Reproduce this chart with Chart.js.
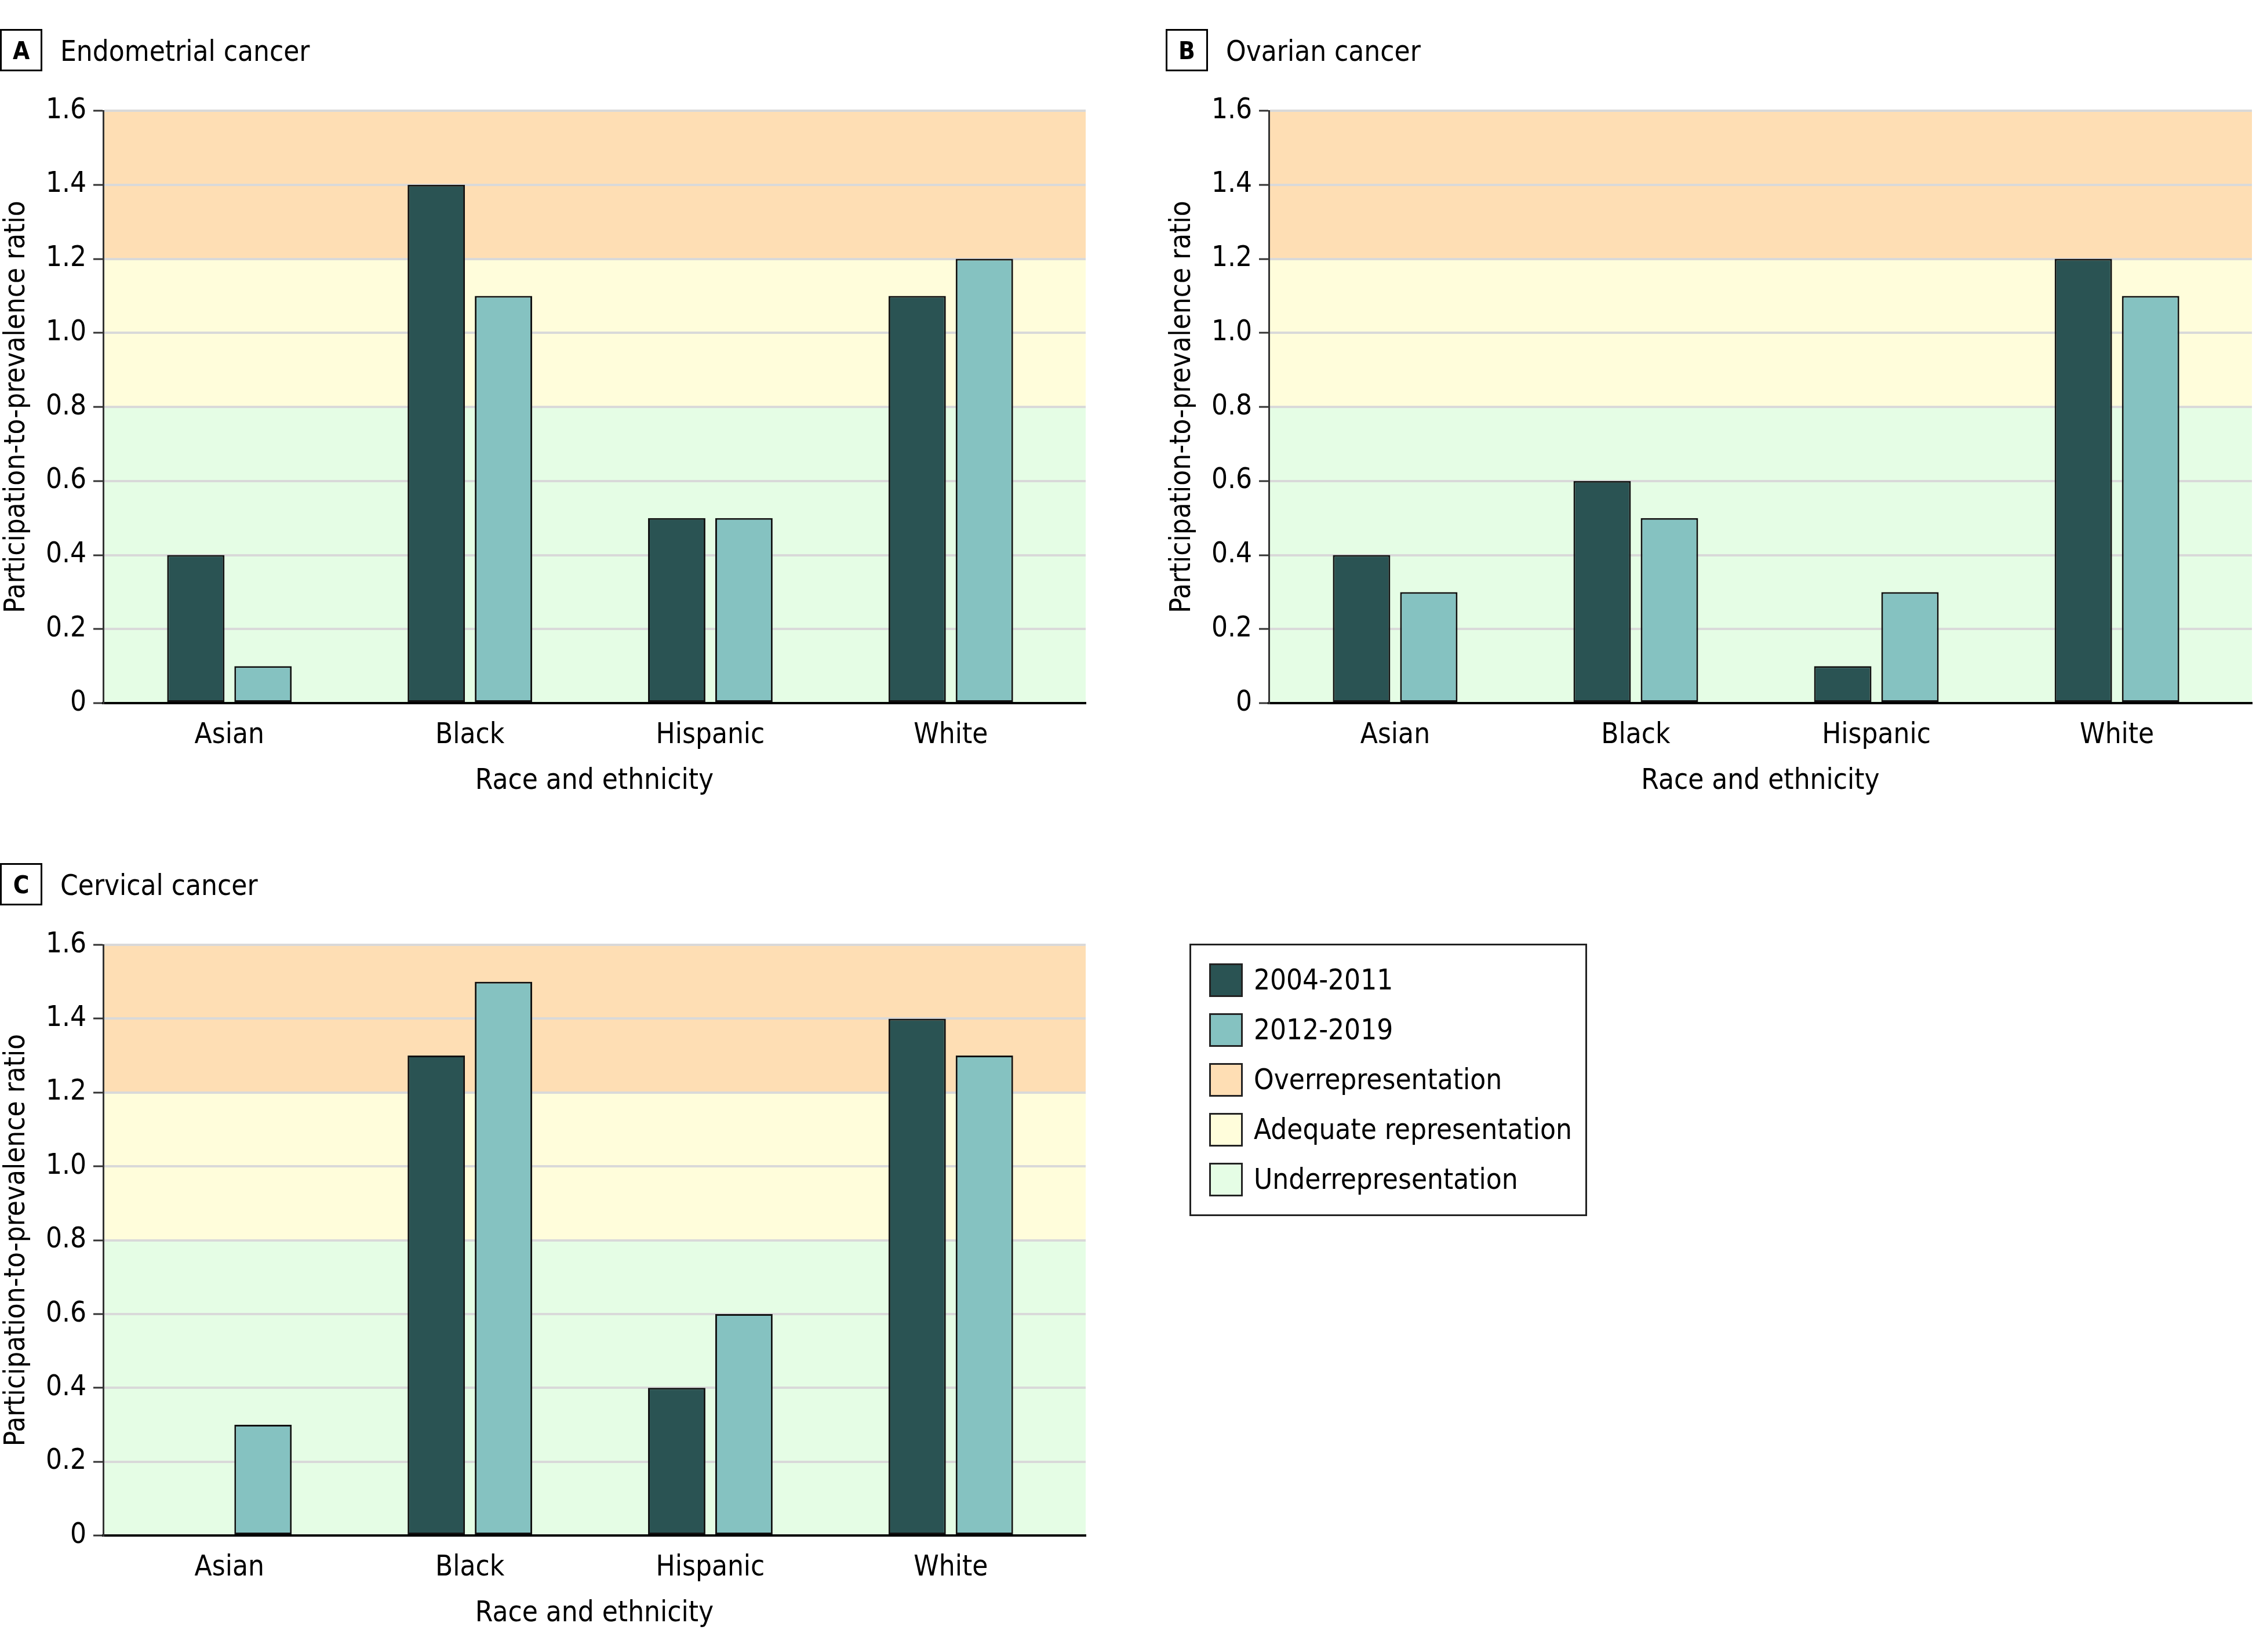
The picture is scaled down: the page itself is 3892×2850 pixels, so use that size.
<!DOCTYPE html>
<html><head><meta charset="utf-8">
<script src="https://cdn.jsdelivr.net/npm/chart.js@4.4.1/dist/chart.umd.min.js"></script>
<style>
html,body{margin:0;padding:0;background:#fff;width:3892px;height:2850px;overflow:hidden}
canvas{position:absolute}
</style></head><body>
<canvas id="cA" width="1946" height="1425" style="left:0;top:0;width:1946px;height:1425px"></canvas>
<canvas id="cB" width="1946" height="1425" style="left:1946px;top:0;width:1946px;height:1425px"></canvas>
<canvas id="cC" width="3892" height="1425" style="left:0;top:1425px;width:3892px;height:1425px"></canvas>
<script>
// ---- data ----
const categories = ['Asian', 'Black', 'Hispanic', 'White'];
const seriesNames = ['2004-2011', '2012-2019'];
const endometrial2004 = [0.4, 1.4, 0.5, 1.1];
const endometrial2012 = [0.1, 1.1, 0.5, 1.2];
const ovarian2004 = [0.4, 0.6, 0.1, 1.2];
const ovarian2012 = [0.3, 0.5, 0.3, 1.1];
const cervical2004 = [null, 1.3, 0.4, 1.4];
const cervical2012 = [0.3, 1.5, 0.6, 1.3];
const yTickLabels = ['0', '0.2', '0.4', '0.6', '0.8', '1.0', '1.2', '1.4', '1.6'];
const bandNames = ['Overrepresentation', 'Adequate representation', 'Underrepresentation'];
const bandLow = [1.2, 0.8, 0];
const bandHigh = [1.6, 1.2, 0.8];
const panelLetters = ['A', 'B', 'C'];
const panelTitles = ['Endometrial cancer', 'Ovarian cancer', 'Cervical cancer'];
const xTitle = 'Race and ethnicity';
const yTitle = 'Participation-to-prevalence ratio';

// ---- style ----
const FF = "'DejaVu Sans Condensed', 'DejaVu Sans', sans-serif";
const SERIES_COLORS = ['#2a5353', '#85c2c1'];
const BAND_COLORS = ['#fedeb4', '#fffddb', '#e5fde5'];
const FS = 49;

Chart.defaults.font.family = FF;
Chart.defaults.font.size = FS;
Chart.defaults.color = '#000';

const bandsPlugin = {
  id: 'bands',
  beforeDraw(chart) {
    const {ctx, chartArea: a, scales: {y}} = chart;
    ctx.save();
    bandLow.forEach((lo, i) => {
      const yt = y.getPixelForValue(bandHigh[i]);
      const yb = y.getPixelForValue(lo);
      ctx.fillStyle = BAND_COLORS[i];
      ctx.fillRect(a.left, yt, a.right - a.left, yb - yt);
    });
    ctx.restore();
  }
};

const headingPlugin = {
  id: 'heading',
  afterDraw(chart, args, o) {
    const {ctx, chartArea: a} = chart;
    ctx.save();
    const bx = a.left - 178, by = a.top - 141;
    ctx.lineWidth = 3;
    ctx.strokeStyle = '#000';
    ctx.strokeRect(bx + 1.5, by + 1.5, 70, 70);
    ctx.fillStyle = '#000';
    ctx.font = 'bold 42px ' + FF;
    ctx.textAlign = 'center';
    ctx.textBaseline = 'alphabetic';
    ctx.fillText(o.letter, bx + 36.5, by + 52);
    ctx.font = FS + 'px ' + FF;
    ctx.textAlign = 'left';
    ctx.fillText(o.text, a.left - 74, a.top - 86);
    ctx.restore();
  }
};

const legendBoxPlugin = {
  id: 'legendBox',
  afterDraw(chart) {
    const {ctx, chartArea: a} = chart;
    const bx = a.right + 179, by = a.top - 2, bw = 686, bh = 470;
    ctx.save();
    ctx.lineWidth = 3;
    ctx.strokeStyle = '#222';
    ctx.strokeRect(bx + 1.5, by + 1.5, bw - 3, bh - 3);
    const items = seriesNames.map((n, i) => [n, SERIES_COLORS[i]])
      .concat(bandNames.map((n, i) => [n, BAND_COLORS[i]]));
    items.forEach(([name, col], i) => {
      const sy = by + 34 + i * 86;
      ctx.fillStyle = col;
      ctx.fillRect(bx + 34, sy, 58, 58);
      ctx.strokeStyle = '#222';
      ctx.lineWidth = 3;
      ctx.strokeRect(bx + 35.5, sy + 1.5, 55, 55);
      ctx.fillStyle = '#000';
      ctx.font = FS + 'px ' + FF;
      ctx.textAlign = 'left';
      ctx.textBaseline = 'alphabetic';
      ctx.fillText(name, bx + 111, sy + 45);
    });
    ctx.restore();
  }
};

function makeChart(id, idx, s1, s2, padding, xmin, xmax, extraPlugins) {
  const series = [s1, s2];
  return new Chart(document.getElementById(id), {
    type: 'bar',
    data: {
      datasets: series.map((vals, si) => ({
        label: seriesNames[si],
        data: categories.map((c, i) => ({x: i, y: vals[i]})),
        backgroundColor: SERIES_COLORS[si],
        borderColor: '#111',
        borderWidth: 3,
        borderSkipped: false,
        categoryPercentage: 0.559,
        barPercentage: 0.853
      }))
    },
    options: {
      responsive: false,
      animation: false,
      devicePixelRatio: 1,
      layout: {padding},
      plugins: {
        legend: {display: false},
        tooltip: {enabled: false},
        heading: {letter: panelLetters[idx], text: panelTitles[idx]}
      },
      scales: {
        x: {
          type: 'linear',
          offset: false,
          bounds: 'data',
          min: xmin,
          max: xmax,
          afterBuildTicks: (s) => { s.ticks = categories.map((c, i) => ({value: i})); },
          afterFit: (s) => { s.height = 165; },
          grid: {display: false, offset: false},
          border: {display: true, color: '#000', width: 4},
          ticks: {
            callback: (v) => categories[v],
            padding: 19, color: '#000', font: {size: FS},
            maxRotation: 0, autoSkip: false
          },
          title: {display: true, text: xTitle, color: '#000', font: {size: FS}, padding: 0}
        },
        y: {
          min: 0,
          max: 1.6,
          afterFit: (s) => { s.width = 178; },
          ticks: {
            stepSize: 0.2,
            callback: (v, i) => yTickLabels[i],
            padding: 12, color: '#000', font: {size: FS}
          },
          grid: {color: '#d9d9d9', lineWidth: 4, tickLength: 17, tickColor: '#333', tickWidth: 3},
          border: {display: true, color: '#333', width: 3},
          title: {display: true, text: yTitle, color: '#000', font: {size: FS}, padding: 0}
        }
      }
    },
    plugins: [bandsPlugin, headingPlugin].concat(extraPlugins || [])
  });
}

makeChart('cA', 0, endometrial2004, endometrial2012, {top: 191, left: 0, right: 73, bottom: 47}, -0.525, 3.561);
makeChart('cB', 1, ovarian2004, ovarian2012, {top: 191, left: 65, right: 7, bottom: 47}, -0.525, 3.561);
makeChart('cC', 2, cervical2004, cervical2012, {top: 205, left: 0, right: 2019, bottom: 36}, -0.525, 3.561, [legendBoxPlugin]);
</script>
</body></html>
